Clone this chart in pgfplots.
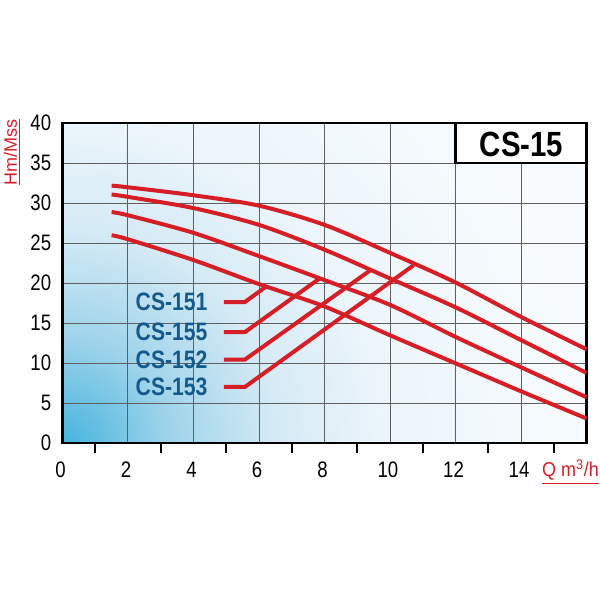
\documentclass[border=0pt]{standalone}
\usepackage{fontspec}
\setmainfont{Liberation Sans}
\usepackage{graphicx}
\usepackage{pgfplots}
\pgfplotsset{compat=1.18}

\definecolor{curvered}{RGB}{214,30,38}
\definecolor{labelblue}{RGB}{22,90,140}
\definecolor{gridgray}{RGB}{95,95,95}
\definecolor{bgA}{RGB}{70,180,222}
\definecolor{bgB}{RGB}{160,212,235}
\definecolor{bgC}{RGB}{212,234,245}
\definecolor{bgD}{RGB}{236,245,251}
\definecolor{bgE}{RGB}{247,251,253}
\pgfdeclareradialshading{cornerblue}{\pgfpoint{0bp}{0bp}}{%
  color(0bp)=(bgA); color(4.2bp)=(bgB); color(8.3bp)=(bgC);
  color(12.5bp)=(bgD); color(20bp)=(bgE); color(50bp)=(white)}

\newcommand\cnd[1]{\scalebox{0.83}[1]{#1}}
\newcommand\lbl[1]{{\fontsize{12.6}{14}\selectfont\bfseries\color{labelblue}\scalebox{0.84}[1]{#1}}}

\begin{document}
\begin{tikzpicture}
\begin{axis}[
    set layers,
    scale only axis,
    width=262pt, height=160pt,
    xmin=0, xmax=16, ymin=0, ymax=40,
    clip=false,
    xtick={0,2,...,14},
    xticklabels={\cnd{0},\cnd{2},\cnd{4},\cnd{6},\cnd{8},\cnd{10},\cnd{12},\cnd{14}},
    minor xtick={1,3,...,15},
    ytick={0,5,...,40},
    yticklabels={\cnd{0},\cnd{5},\cnd{10},\cnd{15},\cnd{20},\cnd{25},\cnd{30},\cnd{35},\cnd{40}},
    xmajorgrids, ymajorgrids,
    grid style={gridgray, line width=0.5pt},
    major tick length=0pt, minor tick length=4.7pt, tick align=outside,
    xtick pos=left, ytick pos=left,
    minor tick style={black, line width=1pt},
    axis line style={black, line width=1.2pt},
    ticklabel style={font=\fontsize{11.2}{13}\selectfont},
    yticklabel style={anchor=east, inner sep=0pt, xshift=-5.5pt},
    xticklabel style={anchor=north, inner sep=0pt, yshift=-9pt, xshift=-1pt},
]
\begin{pgfonlayer}{axis background}
  \begin{scope}
    \clip (axis cs:0,0) rectangle (axis cs:16,40);
    \shade[shading=cornerblue] (axis cs:0,0) circle[radius=320pt];
  \end{scope}
\end{pgfonlayer}

% pump curves
\addplot[curvered, line width=2pt, smooth] coordinates {
    (1.5,32.2) (2,32.0) (4,31.0) (6,29.7) (8,27.3) (10,23.8) (12,20.1) (14,15.8) (16,11.75)};
\addplot[curvered, line width=2pt, smooth] coordinates {
    (1.5,31.1) (2,30.8) (4,29.4) (6,27.3) (8,24.2) (10,20.6) (12,17.0) (14,12.9) (16,8.8)};
\addplot[curvered, line width=2pt, smooth] coordinates {
    (1.5,28.9) (2,28.5) (4,26.3) (6,23.4) (8,20.4) (10,17.3) (12,13.3) (14,9.5) (16,5.75)};
\addplot[curvered, line width=2pt, smooth] coordinates {
    (1.5,26.0) (2,25.5) (4,22.9) (6,19.9) (8,17.1) (10,13.5) (12,10.0) (14,6.5) (16,3.1)};

% leader lines
\addplot[curvered, line width=2pt] coordinates {(4.93,17.66) (5.57,17.66) (6.22,19.6)};
\addplot[curvered, line width=2pt] coordinates {(4.93,13.9) (5.57,13.9) (7.85,20.6)};
\addplot[curvered, line width=2pt] coordinates {(4.93,10.46) (5.57,10.46) (9.39,21.6)};
\addplot[curvered, line width=2pt] coordinates {(4.93,7.04) (5.57,7.04) (10.72,22.25)};

\node[anchor=east, inner sep=0pt] at (axis cs:4.44,17.66) {\lbl{CS-151}};
\node[anchor=east, inner sep=0pt] at (axis cs:4.44,13.9) {\lbl{CS-155}};
\node[anchor=east, inner sep=0pt] at (axis cs:4.44,10.46) {\lbl{CS-152}};
\node[anchor=east, inner sep=0pt] at (axis cs:4.44,7.04) {\lbl{CS-153}};

% title box
\draw[black, line width=1.2pt, fill=white] (axis cs:12,35) rectangle (axis cs:16,40);
\node[inner sep=0pt] at (axis cs:14.02,37.41)
    {\fontsize{17.5}{20}\selectfont\bfseries\scalebox{0.84}[1]{CS-15}};

% axis titles
\node[rotate=90, inner sep=0pt, text=curvered, font=\fontsize{9}{10}\selectfont]
    at (axis cs:-1.53,36.35) {\underline{Hm/Mss}};
\node[anchor=base west, inner sep=0pt, text=curvered, font=\fontsize{10}{12}\selectfont]
    at (axis cs:14.63,-4.17) {\scalebox{0.9}[1]{\underline{Q m\textsuperscript{3}/h}}};

\coordinate (sw) at (axis cs:-1.9084,-19.5875);
\coordinate (ne) at (axis cs:16.4122,55.4125);
\end{axis}
\pgfresetboundingbox
\path[use as bounding box] (sw) rectangle (ne);
\end{tikzpicture}
\end{document}
